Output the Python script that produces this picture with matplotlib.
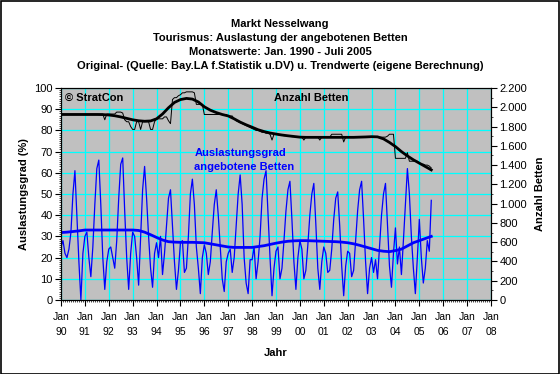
#!/usr/bin/env python3
# -*- coding: utf-8 -*-

import numpy as np
import matplotlib
matplotlib.use('Agg')
import matplotlib.pyplot as plt
from matplotlib.ticker import FixedLocator, MultipleLocator, FuncFormatter
from matplotlib.patches import Rectangle

plt.rcParams['font.family'] = ['Liberation Sans', 'DejaVu Sans']

# Auslastungsgrad (%) monthly, Jan 1990 - Jul 2005
ausl_1990 = [25, 28, 22, 20, 24, 32, 50, 61, 40, 18, 0, 22]
ausl_1991 = [30, 32, 20, 11, 25, 45, 62, 66, 45, 20, 5, 18]
ausl_1992 = [24, 25, 20, 15, 28, 48, 64, 67, 42, 20, 5, 22]
ausl_1993 = [32, 30, 20, 7, 30, 52, 63, 48, 30, 15, 6, 22]
ausl_1994 = [27, 20, 30, 12, 22, 35, 48, 52, 35, 18, 5, 14]
ausl_1995 = [27, 28, 13, 15, 30, 50, 57, 45, 25, 15, 3, 20]
ausl_1996 = [26, 22, 12, 18, 32, 45, 52, 40, 25, 10, 4, 18]
ausl_1997 = [22, 24, 13, 20, 35, 50, 59, 45, 20, 8, 3, 19]
ausl_1998 = [19, 25, 10, 18, 30, 48, 57, 61, 40, 20, 2, 15]
ausl_1999 = [23, 25, 10, 15, 28, 42, 52, 56, 38, 18, 5, 20]
ausl_2000 = [28, 24, 10, 14, 26, 40, 50, 55, 36, 15, 5, 18]
ausl_2001 = [25, 22, 13, 14, 24, 38, 48, 51, 35, 16, 2, 16]
ausl_2002 = [23, 22, 11, 14, 28, 42, 52, 56, 38, 18, 3, 15]
ausl_2003 = [20, 13, 19, 10, 25, 40, 50, 55, 35, 16, 6, 22]
ausl_2004 = [34, 17, 25, 12, 28, 45, 62, 50, 30, 15, 3, 20]
ausl_2005 = [38, 20, 8, 15, 28, 23, 47]

# Anzahl Betten monthly
betten_1990 = [1930] * 12
betten_1991 = [1930, 1930, 1930, 1930, 1930, 1930, 1930, 1930, 1930, 1930, 1870, 1930]
betten_1992 = [1930, 1930, 1930, 1930, 1950, 1950, 1950, 1940, 1870, 1850, 1850, 1800]
betten_1993 = [1770, 1770, 1850, 1850, 1770, 1850, 1850, 1850, 1850, 1770, 1770, 1850]
betten_1994 = [1880, 1880, 1880, 1880, 1900, 1900, 1860, 1830, 2080, 2100, 2100, 2120]
betten_1995 = [2130, 2150, 2150, 2160, 2160, 2160, 2160, 2150, 2030, 2030, 2030, 2030]
betten_1996 = [1925, 1925, 1925, 1925, 1925, 1925, 1925, 1925, 1925, 1925, 1925, 1925]
betten_1997 = [1910, 1910, 1910, 1880, 1860, 1850, 1840, 1830, 1820, 1810, 1800, 1790]
betten_1998 = [1780, 1770, 1760, 1760, 1750, 1740, 1740, 1730, 1730, 1720, 1660, 1720]
betten_1999 = [1720, 1715, 1710, 1710, 1705, 1705, 1700, 1700, 1695, 1695, 1690, 1690]
betten_2000 = [1690, 1690, 1660, 1690, 1690, 1690, 1690, 1690, 1690, 1690, 1660, 1690]
betten_2001 = [1690, 1690, 1690, 1690, 1720, 1720, 1720, 1720, 1720, 1720, 1640, 1690]
betten_2002 = [1690] * 12
betten_2003 = [1690, 1690, 1690, 1690, 1690, 1690, 1690, 1690, 1700, 1720, 1720, 1720]
betten_2004 = [1470, 1470, 1470, 1470, 1470, 1470, 1530, 1440, 1440, 1440, 1440, 1440]
betten_2005 = [1420, 1410, 1410, 1400, 1400, 1390, 1370]

# Trendwerte (quarterly, months 0,3,...,186)
trend_ausl = [31.8, 32.0, 32.3, 32.6, 33.0, 33.0, 33.0, 33.0, 33.0, 33.0,
              33.0, 33.0, 33.0, 32.8, 32.0, 30.8, 29.5, 28.3, 27.5, 27.3,
              27.2, 27.2, 27.2, 27.1, 27.0, 26.5, 26.0, 25.5, 25.0, 24.8,
              24.8, 24.8, 24.8, 25.2, 25.6, 26.2, 26.8, 27.3, 27.7, 27.9,
              28.0, 28.0, 27.9, 27.8, 27.7, 27.6, 27.5, 27.3, 27.0, 26.5,
              25.8, 25.0, 24.2, 23.4, 23.0, 22.8, 23.3, 24.0, 25.5, 27.0,
              28.0, 29.0, 30.0]
trend_betten = [1925, 1925, 1925, 1925, 1925, 1925, 1925, 1924, 1920, 1912,
                1900, 1885, 1870, 1860, 1855, 1858, 1880, 1930, 1995, 2050,
                2080, 2092, 2085, 2055, 2005, 1970, 1945, 1925, 1910, 1880,
                1846, 1818, 1793, 1767, 1748, 1733, 1722, 1712, 1704, 1697,
                1690, 1688, 1688, 1688, 1688, 1688, 1688, 1688, 1688, 1688,
                1690, 1692, 1695, 1693, 1672, 1635, 1592, 1540, 1495, 1455,
                1420, 1385, 1350]

year_labels = ['90', '91', '92', '93', '94', '95', '96', '97', '98', '99',
               '00', '01', '02', '03', '04', '05', '06', '07', '08']

ausl = (ausl_1990 + ausl_1991 + ausl_1992 + ausl_1993 + ausl_1994 + ausl_1995
        + ausl_1996 + ausl_1997 + ausl_1998 + ausl_1999 + ausl_2000 + ausl_2001
        + ausl_2002 + ausl_2003 + ausl_2004 + ausl_2005)
betten = (betten_1990 + betten_1991 + betten_1992 + betten_1993 + betten_1994
          + betten_1995 + betten_1996 + betten_1997 + betten_1998 + betten_1999
          + betten_2000 + betten_2001 + betten_2002 + betten_2003 + betten_2004
          + betten_2005)
months = np.arange(len(ausl))
tmonths = np.arange(len(trend_ausl)) * 3

fig = plt.figure(figsize=(5.6, 3.74), dpi=100)
fig.add_artist(Rectangle((0.001, 0.001), 0.997, 0.996, transform=fig.transFigure,
                         fill=False, lw=1.2, ec='black'))
ax = fig.add_axes([0.1089, 0.1979, 0.7679, 0.5668])
ax.set_facecolor('#C0C0C0')
ax2 = ax.twinx()

ax.plot(months, ausl, color='#0000FF', lw=0.9)
ax.plot(tmonths, trend_ausl, color='#0000FF', lw=2.0)
ax2.plot(months, betten, color='black', lw=0.7)
ax2.plot(tmonths, trend_betten, color='black', lw=2.0)

ax.set_xlim(0, 216)
ax.set_ylim(0, 100)
ax2.set_ylim(0, 2200)
ax.xaxis.set_major_locator(FixedLocator(np.arange(0, 217, 12)))
ax.set_xticklabels(['Jan\n' + y for y in year_labels], fontsize=7.5, linespacing=1.55)
ax.xaxis.set_minor_locator(MultipleLocator(1))
ax.yaxis.set_major_locator(MultipleLocator(10))
ax.yaxis.set_minor_locator(MultipleLocator(1))
ax2.yaxis.set_major_locator(MultipleLocator(200))
ax2.yaxis.set_minor_locator(MultipleLocator(100))
ax2.yaxis.set_major_formatter(FuncFormatter(lambda v, p: '{:,.0f}'.format(v).replace(',', '.')))
ax.tick_params(axis='y', labelsize=8, length=4, width=0.8, pad=2)
ax.tick_params(axis='x', length=4, width=0.8, pad=5)
ax.tick_params(which='minor', length=1.5, width=0.5)
ax2.tick_params(axis='y', labelsize=8, length=4, width=0.8, pad=2)
ax2.tick_params(which='minor', length=1.5, width=0.5)
ax.grid(True, which='major', color='#00FFFF', lw=0.9)
ax.set_axisbelow(True)

ax.set_xlabel('Jahr', fontsize=8, fontweight='bold', labelpad=8)
ax.set_ylabel('Auslastungsgrad (%)', fontsize=8, fontweight='bold', labelpad=4)
ax2.set_ylabel('Anzahl Betten', fontsize=8, fontweight='bold', labelpad=6)

ax.text(0.01, 0.975, '© StratCon', transform=ax.transAxes, fontsize=8,
        fontweight='bold', va='top', ha='left')
ax.text(0.495, 0.975, 'Anzahl Betten', transform=ax.transAxes, fontsize=8,
        fontweight='bold', va='top', ha='left')
ax.text(0.31, 0.715, 'Auslastungsgrad\nangebotene Betten', transform=ax.transAxes,
        fontsize=8, fontweight='bold', color='#0000FF', va='top', ha='left',
        linespacing=1.5)

fig.text(0.5, 0.948, 'Markt Nesselwang\nTourismus: Auslastung der angebotenen Betten\n'
         'Monatswerte: Jan. 1990 - Juli 2005\n'
         'Original- (Quelle: Bay.LA f.Statistik u.DV) u. Trendwerte (eigene Berechnung)',
         ha='center', va='top', fontsize=8, fontweight='bold', linespacing=1.5)

fig.savefig('out.png', dpi=100)
